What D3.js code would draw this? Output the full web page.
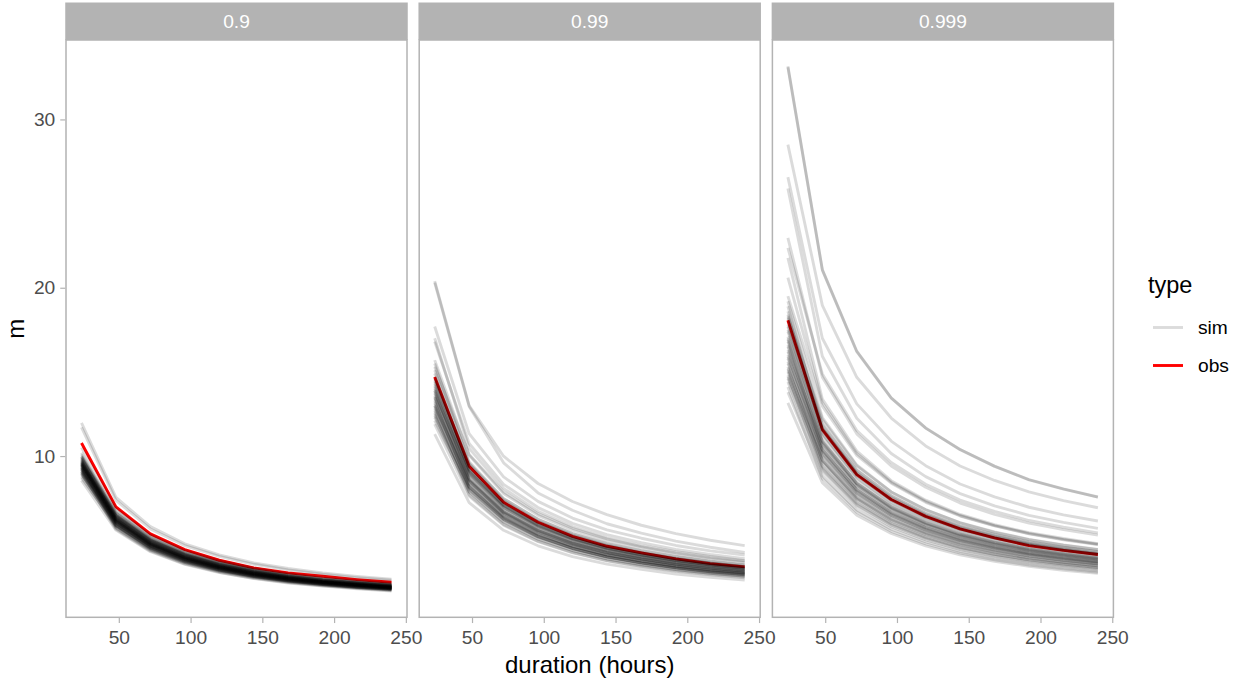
<!DOCTYPE html>
<html>
<head>
<meta charset="utf-8">
<script src="https://cdn.jsdelivr.net/npm/d3@7"></script>
<style>
  html, body { margin: 0; padding: 0; background: #fff; }
  svg { display: block; font-family: "Liberation Sans", Arial, Helvetica, sans-serif; }
</style>
</head>
<body>
<script>
// Durations (hours) at which the quantile curves are evaluated
const durations = [24, 48, 72, 96, 120, 144, 168, 192, 216, 240];
const panelLabels = ["0.9", "0.99", "0.999"];
const xTicks = [50, 100, 150, 200, 250];
const yTicks = [10, 20, 30];
const legendLabels = ["sim", "obs"];

// Observed curves, one per quantile level
const obs90 = [10.78, 6.98, 5.38, 4.44, 3.81, 3.36, 3.06, 2.86, 2.66, 2.50];
const obs99 = [14.7, 9.39, 7.25, 6.07, 5.23, 4.64, 4.25, 3.89, 3.61, 3.42];
const obs999 = [18.07, 11.57, 8.90, 7.42, 6.42, 5.67, 5.14, 4.68, 4.40, 4.15];

// Simulated curves, quantile level 0.9
const sim90 = [
  [11.97, 7.54, 5.81, 4.79, 4.13, 3.65, 3.32, 3.05, 2.85, 2.68],
  [11.7, 7.37, 5.67, 4.68, 4.04, 3.57, 3.24, 2.98, 2.78, 2.62],
  [10.5, 6.88, 5.30, 4.39, 3.78, 3.34, 3.02, 2.78, 2.59, 2.44],
  [10.2, 6.43, 4.95, 4.08, 3.52, 3.11, 2.83, 2.60, 2.43, 2.28],
  [10.1, 6.62, 5.10, 4.22, 3.64, 3.21, 2.91, 2.68, 2.49, 2.34],
  [10.0, 6.75, 5.25, 4.35, 3.75, 3.32, 3.00, 2.76, 2.58, 2.43],
  [9.98, 6.54, 5.04, 4.17, 3.59, 3.17, 2.87, 2.64, 2.47, 2.32],
  [9.95, 6.27, 4.83, 3.98, 3.43, 3.03, 2.76, 2.54, 2.37, 2.23],
  [9.9, 6.48, 5.00, 4.14, 3.56, 3.15, 2.85, 2.62, 2.45, 2.30],
  [9.88, 6.22, 4.79, 3.95, 3.41, 3.01, 2.74, 2.52, 2.35, 2.21],
  [9.85, 6.65, 5.17, 4.28, 3.69, 3.27, 2.96, 2.72, 2.54, 2.39],
  [9.8, 6.42, 4.95, 4.10, 3.53, 3.12, 2.82, 2.60, 2.42, 2.27],
  [9.78, 6.60, 5.13, 4.25, 3.67, 3.25, 2.93, 2.70, 2.52, 2.38],
  [9.75, 6.14, 4.73, 3.90, 3.36, 2.97, 2.70, 2.49, 2.32, 2.18],
  [9.7, 6.35, 4.90, 4.05, 3.49, 3.08, 2.79, 2.57, 2.40, 2.25],
  [9.7, 6.11, 4.70, 3.88, 3.35, 2.96, 2.69, 2.47, 2.31, 2.17],
  [9.68, 6.34, 4.89, 4.05, 3.48, 3.08, 2.79, 2.57, 2.39, 2.25],
  [9.65, 6.51, 5.07, 4.20, 3.62, 3.20, 2.90, 2.66, 2.49, 2.34],
  [9.62, 6.06, 4.67, 3.85, 3.32, 2.93, 2.66, 2.45, 2.29, 2.15],
  [9.6, 6.29, 4.85, 4.01, 3.46, 3.05, 2.76, 2.54, 2.37, 2.23],
  [9.6, 6.48, 5.04, 4.18, 3.60, 3.19, 2.88, 2.65, 2.48, 2.33],
  [9.58, 6.27, 4.84, 4.00, 3.45, 3.05, 2.76, 2.54, 2.37, 2.22],
  [9.55, 6.02, 4.63, 3.82, 3.29, 2.91, 2.65, 2.44, 2.27, 2.14],
  [9.55, 6.26, 4.82, 3.99, 3.44, 3.04, 2.75, 2.53, 2.36, 2.22],
  [9.52, 6.43, 5.00, 4.14, 3.57, 3.16, 2.86, 2.63, 2.46, 2.31],
  [9.5, 6.22, 4.80, 3.97, 3.42, 3.02, 2.74, 2.52, 2.35, 2.20],
  [9.5, 6.41, 4.99, 4.13, 3.56, 3.15, 2.85, 2.62, 2.45, 2.31],
  [9.48, 6.21, 4.79, 3.96, 3.41, 3.01, 2.73, 2.51, 2.34, 2.20],
  [9.45, 6.38, 4.96, 4.11, 3.54, 3.14, 2.84, 2.61, 2.44, 2.30],
  [9.45, 6.19, 4.77, 3.95, 3.40, 3.01, 2.72, 2.50, 2.33, 2.19],
  [9.42, 5.93, 4.57, 3.77, 3.25, 2.87, 2.61, 2.40, 2.24, 2.11],
  [9.4, 6.16, 4.75, 3.93, 3.38, 2.99, 2.71, 2.49, 2.32, 2.18],
  [9.38, 6.14, 4.74, 3.92, 3.38, 2.98, 2.70, 2.49, 2.32, 2.18],
  [9.35, 5.89, 4.53, 3.74, 3.23, 2.85, 2.59, 2.38, 2.23, 2.09],
  [9.32, 6.29, 4.89, 4.05, 3.50, 3.09, 2.80, 2.57, 2.40, 2.26],
  [9.3, 6.09, 4.70, 3.89, 3.35, 2.96, 2.68, 2.46, 2.30, 2.16],
  [9.3, 5.86, 4.51, 3.72, 3.21, 2.84, 2.58, 2.37, 2.21, 2.08],
  [9.28, 6.08, 4.69, 3.88, 3.34, 2.95, 2.67, 2.46, 2.29, 2.15],
  [9.25, 6.24, 4.86, 4.02, 3.47, 3.07, 2.78, 2.55, 2.39, 2.25],
  [9.22, 5.81, 4.47, 3.69, 3.18, 2.81, 2.55, 2.35, 2.19, 2.07],
  [9.2, 6.03, 4.65, 3.85, 3.31, 2.93, 2.65, 2.44, 2.27, 2.13],
  [9.18, 6.01, 4.64, 3.84, 3.30, 2.92, 2.64, 2.43, 2.27, 2.13],
  [9.12, 6.16, 4.79, 3.97, 3.42, 3.03, 2.74, 2.52, 2.35, 2.22],
  [9.1, 5.73, 4.41, 3.64, 3.14, 2.78, 2.52, 2.32, 2.17, 2.04],
  [9.08, 5.95, 4.59, 3.80, 3.27, 2.89, 2.62, 2.41, 2.24, 2.11],
  [9.05, 6.11, 4.75, 3.94, 3.39, 3.00, 2.72, 2.50, 2.33, 2.20],
  [9.0, 5.90, 4.55, 3.76, 3.24, 2.86, 2.59, 2.39, 2.22, 2.09],
  [8.98, 5.66, 4.36, 3.59, 3.10, 2.74, 2.49, 2.29, 2.14, 2.01],
  [8.95, 5.86, 4.52, 3.74, 3.22, 2.85, 2.58, 2.37, 2.21, 2.08],
  [8.9, 6.01, 4.67, 3.87, 3.34, 2.95, 2.67, 2.46, 2.30, 2.16],
  [8.8, 5.76, 4.44, 3.68, 3.17, 2.80, 2.53, 2.33, 2.17, 2.04],
  [8.7, 5.87, 4.57, 3.78, 3.26, 2.89, 2.61, 2.40, 2.24, 2.11],
  [8.55, 5.60, 4.32, 3.57, 3.08, 2.72, 2.46, 2.27, 2.11, 1.98]
];

// Simulated curves, quantile level 0.99
const sim99 = [
  [20.39, 13.0, 9.99, 8.37, 7.30, 6.52, 5.89, 5.39, 5.00, 4.68],
  [20.3, 12.95, 9.60, 7.81, 6.78, 5.98, 5.42, 4.95, 4.58, 4.27],
  [17.7, 11.33, 8.76, 7.31, 6.32, 5.61, 5.12, 4.69, 4.37, 4.12],
  [17.0, 10.46, 8.08, 6.72, 5.81, 5.15, 4.69, 4.32, 4.03, 3.79],
  [16.8, 10.75, 8.32, 6.94, 6.00, 5.33, 4.86, 4.45, 4.15, 3.91],
  [15.7, 10.05, 7.77, 6.48, 5.60, 4.98, 4.54, 4.16, 3.88, 3.66],
  [15.5, 9.53, 7.36, 6.12, 5.30, 4.70, 4.28, 3.94, 3.67, 3.46],
  [15.3, 10.10, 7.88, 6.58, 5.71, 5.08, 4.62, 4.25, 3.96, 3.75],
  [15.1, 9.66, 7.47, 6.24, 5.39, 4.79, 4.36, 4.00, 3.73, 3.52],
  [14.9, 9.16, 7.08, 5.89, 5.10, 4.51, 4.11, 3.78, 3.53, 3.32],
  [14.7, 9.41, 7.28, 6.07, 5.25, 4.66, 4.25, 3.90, 3.63, 3.43],
  [14.6, 8.98, 6.94, 5.77, 4.99, 4.42, 4.03, 3.71, 3.46, 3.26],
  [14.5, 9.57, 7.47, 6.24, 5.41, 4.81, 4.38, 4.03, 3.76, 3.55],
  [14.4, 9.22, 7.13, 5.95, 5.14, 4.56, 4.16, 3.82, 3.56, 3.36],
  [14.3, 9.15, 7.08, 5.91, 5.11, 4.53, 4.13, 3.79, 3.53, 3.33],
  [14.2, 9.09, 7.03, 5.86, 5.07, 4.50, 4.10, 3.76, 3.51, 3.31],
  [14.1, 8.67, 6.70, 5.57, 4.82, 4.27, 3.89, 3.58, 3.34, 3.14],
  [14.0, 9.24, 7.21, 6.02, 5.22, 4.65, 4.23, 3.89, 3.63, 3.43],
  [13.9, 8.90, 6.88, 5.74, 4.96, 4.41, 4.02, 3.68, 3.43, 3.24],
  [13.9, 8.55, 6.60, 5.49, 4.75, 4.21, 3.84, 3.53, 3.29, 3.10],
  [13.8, 8.83, 6.83, 5.70, 4.93, 4.37, 3.99, 3.66, 3.41, 3.22],
  [13.7, 9.04, 7.06, 5.89, 5.11, 4.55, 4.14, 3.81, 3.55, 3.36],
  [13.6, 8.36, 6.46, 5.37, 4.65, 4.12, 3.75, 3.45, 3.22, 3.03],
  [13.5, 8.64, 6.68, 5.58, 4.82, 4.28, 3.90, 3.58, 3.33, 3.15],
  [13.5, 8.91, 6.95, 5.81, 5.04, 4.48, 4.08, 3.75, 3.50, 3.31],
  [13.4, 8.58, 6.63, 5.53, 4.78, 4.25, 3.87, 3.55, 3.31, 3.12],
  [13.3, 8.18, 6.32, 5.25, 4.55, 4.03, 3.67, 3.38, 3.15, 2.97],
  [13.2, 8.12, 6.27, 5.21, 4.51, 4.00, 3.64, 3.35, 3.13, 2.94],
  [13.1, 8.38, 6.48, 5.41, 4.68, 4.15, 3.79, 3.47, 3.24, 3.05],
  [13.0, 8.32, 6.44, 5.37, 4.64, 4.12, 3.76, 3.45, 3.21, 3.03],
  [13.0, 8.58, 6.70, 5.59, 4.85, 4.32, 3.93, 3.61, 3.37, 3.19],
  [12.9, 8.51, 6.64, 5.55, 4.81, 4.28, 3.90, 3.59, 3.34, 3.16],
  [12.8, 7.87, 6.08, 5.06, 4.38, 3.88, 3.53, 3.25, 3.03, 2.85],
  [12.7, 8.13, 6.29, 5.25, 4.53, 4.03, 3.67, 3.37, 3.14, 2.96],
  [12.6, 8.06, 6.24, 5.20, 4.50, 3.99, 3.64, 3.34, 3.11, 2.94],
  [12.5, 7.69, 5.94, 4.94, 4.28, 3.79, 3.45, 3.18, 2.96, 2.79],
  [12.4, 8.18, 6.39, 5.33, 4.63, 4.12, 3.74, 3.45, 3.21, 3.04],
  [12.3, 7.87, 6.09, 5.08, 4.39, 3.90, 3.55, 3.26, 3.04, 2.87],
  [12.1, 7.99, 6.23, 5.20, 4.51, 4.02, 3.65, 3.36, 3.13, 2.96],
  [11.9, 7.62, 5.89, 4.91, 4.25, 3.77, 3.44, 3.15, 2.94, 2.77],
  [11.3, 7.23, 5.59, 4.67, 4.03, 3.58, 3.27, 2.99, 2.79, 2.63]
];

// Simulated curves, quantile level 0.999
const sim999 = [
  [33.16, 21.08, 16.23, 13.46, 11.67, 10.39, 9.40, 8.60, 8.05, 7.57],
  [33.1, 21.05, 16.20, 13.44, 11.66, 10.38, 9.39, 8.59, 8.04, 7.56],
  [28.5, 18.95, 14.68, 12.26, 10.60, 9.41, 8.55, 7.87, 7.35, 6.93],
  [26.57, 17.0, 13.10, 10.89, 9.43, 8.34, 7.57, 6.96, 6.51, 6.14],
  [25.9, 15.93, 12.25, 10.15, 8.78, 7.77, 7.04, 6.48, 6.06, 5.70],
  [22.96, 14.69, 11.32, 9.41, 8.15, 7.21, 6.54, 6.02, 5.63, 5.30],
  [22.37, 14.88, 11.52, 9.62, 8.32, 7.38, 6.71, 6.17, 5.77, 5.44],
  [21.78, 13.39, 10.30, 8.54, 7.38, 6.53, 5.92, 5.45, 5.10, 4.79],
  [20.6, 13.18, 10.16, 8.45, 7.31, 6.47, 5.87, 5.40, 5.05, 4.76],
  [19.5, 12.97, 10.04, 8.39, 7.25, 6.44, 5.85, 5.38, 5.03, 4.74],
  [19.2, 12.29, 9.47, 7.87, 6.82, 6.03, 5.47, 5.03, 4.70, 4.44],
  [18.9, 11.62, 8.94, 7.41, 6.41, 5.67, 5.14, 4.73, 4.42, 4.16],
  [18.6, 11.90, 9.17, 7.63, 6.60, 5.84, 5.30, 4.87, 4.56, 4.30],
  [18.4, 11.32, 8.70, 7.21, 6.24, 5.52, 5.00, 4.60, 4.31, 4.05],
  [18.3, 12.17, 9.42, 7.87, 6.81, 6.04, 5.49, 5.05, 4.72, 4.45],
  [18.2, 11.65, 8.97, 7.46, 6.46, 5.71, 5.19, 4.77, 4.46, 4.20],
  [18.0, 11.52, 8.87, 7.38, 6.39, 5.65, 5.13, 4.72, 4.41, 4.16],
  [17.8, 11.84, 9.17, 7.65, 6.62, 5.87, 5.34, 4.91, 4.59, 4.33],
  [17.7, 10.89, 8.37, 6.94, 6.00, 5.31, 4.81, 4.43, 4.14, 3.89],
  [17.5, 11.64, 9.01, 7.53, 6.51, 5.78, 5.25, 4.83, 4.52, 4.25],
  [17.4, 11.14, 8.58, 7.13, 6.18, 5.46, 4.96, 4.56, 4.26, 4.02],
  [17.1, 11.37, 8.81, 7.35, 6.36, 5.64, 5.13, 4.72, 4.41, 4.16],
  [17.0, 10.88, 8.38, 6.97, 6.04, 5.34, 4.85, 4.45, 4.17, 3.93],
  [16.9, 10.39, 7.99, 6.62, 5.73, 5.07, 4.60, 4.23, 3.95, 3.72],
  [16.8, 10.75, 8.28, 6.89, 5.96, 5.28, 4.79, 4.40, 4.12, 3.88],
  [16.6, 10.62, 8.18, 6.81, 5.89, 5.21, 4.73, 4.35, 4.07, 3.83],
  [16.5, 10.15, 7.80, 6.47, 5.59, 4.95, 4.49, 4.13, 3.86, 3.63],
  [16.3, 10.84, 8.39, 7.01, 6.06, 5.38, 4.89, 4.50, 4.21, 3.96],
  [16.2, 10.37, 7.99, 6.64, 5.75, 5.09, 4.62, 4.24, 3.97, 3.74],
  [16.0, 10.24, 7.89, 6.56, 5.68, 5.02, 4.56, 4.19, 3.92, 3.70],
  [15.9, 10.57, 8.19, 6.84, 5.91, 5.25, 4.77, 4.39, 4.10, 3.86],
  [15.8, 9.72, 7.47, 6.19, 5.36, 4.74, 4.30, 3.95, 3.70, 3.48],
  [15.6, 9.98, 7.69, 6.40, 5.54, 4.90, 4.45, 4.09, 3.82, 3.60],
  [15.5, 10.31, 7.98, 6.67, 5.77, 5.12, 4.65, 4.28, 4.00, 3.77],
  [15.3, 9.41, 7.24, 6.00, 5.19, 4.59, 4.16, 3.83, 3.58, 3.37],
  [15.2, 9.73, 7.49, 6.23, 5.40, 4.77, 4.33, 3.98, 3.72, 3.51],
  [15.1, 10.04, 7.78, 6.49, 5.62, 4.98, 4.53, 4.17, 3.90, 3.67],
  [15.0, 9.60, 7.40, 6.15, 5.33, 4.71, 4.28, 3.93, 3.68, 3.47],
  [14.8, 9.10, 7.00, 5.80, 5.02, 4.44, 4.03, 3.70, 3.46, 3.26],
  [14.7, 9.78, 7.57, 6.32, 5.47, 4.85, 4.41, 4.06, 3.79, 3.57],
  [14.6, 9.34, 7.20, 5.99, 5.18, 4.58, 4.16, 3.83, 3.58, 3.37],
  [14.4, 9.22, 7.10, 5.90, 5.11, 4.52, 4.10, 3.77, 3.53, 3.33],
  [14.1, 8.67, 6.67, 5.53, 4.78, 4.23, 3.84, 3.53, 3.30, 3.10],
  [13.8, 8.83, 6.80, 5.66, 4.90, 4.33, 3.93, 3.62, 3.38, 3.19],
  [13.16, 8.42, 6.49, 5.40, 4.67, 4.13, 3.75, 3.45, 3.22, 3.04]
];

const panels = [
  { label: panelLabels[0], obs: obs90, sims: sim90 },
  { label: panelLabels[1], obs: obs99, sims: sim99 },
  { label: panelLabels[2], obs: obs999, sims: sim999 }
];

// Layout
const W = 1239, H = 681;
const panelLeft = 66, panelW = 341, panelStep = 353.2;
const stripTop = 2.5, panelTop = 40, panelBottom = 617.3;
const borderColor = "#b3b3b3";
const tickText = "#4d4d4d";
const simColor = "#000";
const simOpacity = 0.14;
const obsColor = "#ff0000";
const lineW = 2.9;
const smallFont = 19.2;
const titleFont = 24;

const svg = d3.select("body").append("svg")
  .attr("width", W).attr("height", H);

svg.append("rect").attr("width", W).attr("height", H).attr("fill", "#fff");

// Shared scales: 5% expansion around the data range
const allVals = panels.flatMap(p => [...p.obs, ...p.sims.flat()]);
const [yMin, yMax] = d3.extent(allVals);
const yPad = (yMax - yMin) * 0.05;
const y = d3.scaleLinear().domain([yMin - yPad, yMax + yPad]).range([panelBottom, panelTop]);

const [dMin, dMax] = d3.extent(durations);
const xPad = (dMax - dMin) * 0.05;

panels.forEach((p, i) => {
  const x0 = panelLeft + i * panelStep;
  const x = d3.scaleLinear().domain([dMin - xPad, dMax + xPad]).range([x0, x0 + panelW]);
  const line = d3.line()
    .x((d, k) => x(durations[k]))
    .y(d => y(d));

  const g = svg.append("g");

  // Panel background
  g.append("rect")
    .attr("x", x0).attr("y", panelTop)
    .attr("width", panelW).attr("height", panelBottom - panelTop)
    .attr("fill", "#fff");

  // Observed curve first, simulated curves layered on top
  g.append("path")
    .datum(p.obs)
    .attr("d", line)
    .attr("fill", "none")
    .attr("stroke", obsColor)
    .attr("stroke-width", lineW)
    .attr("stroke-linejoin", "round");

  g.append("g").selectAll("path")
    .data(p.sims)
    .join("path")
    .attr("d", line)
    .attr("fill", "none")
    .attr("stroke", simColor)
    .attr("stroke-opacity", simOpacity)
    .attr("stroke-width", lineW)
    .attr("stroke-linejoin", "round");

  // Panel border
  g.append("rect")
    .attr("x", x0).attr("y", panelTop)
    .attr("width", panelW).attr("height", panelBottom - panelTop)
    .attr("fill", "none")
    .attr("stroke", borderColor)
    .attr("stroke-width", 1.5);

  // Facet strip
  g.append("rect")
    .attr("x", x0 - 0.75).attr("y", stripTop)
    .attr("width", panelW + 1.5).attr("height", panelTop - stripTop)
    .attr("fill", borderColor);
  g.append("text")
    .attr("x", x0 + panelW / 2).attr("y", (stripTop + panelTop) / 2 + 0.5)
    .attr("text-anchor", "middle")
    .attr("dominant-baseline", "central")
    .attr("fill", "#fff")
    .attr("font-size", smallFont)
    .text(p.label);

  // X axis
  const xAxis = g.append("g")
    .attr("transform", `translate(0,${panelBottom + 0.75})`)
    .call(d3.axisBottom(x).tickValues(xTicks).tickSize(5).tickPadding(7).tickFormat(d3.format("d")));
  xAxis.select(".domain").remove();
  xAxis.selectAll(".tick line").attr("stroke", borderColor).attr("stroke-width", 1.2);
  xAxis.selectAll(".tick text").attr("fill", tickText).attr("font-size", smallFont)
    .attr("font-family", "Liberation Sans, Arial, sans-serif");

  // Y axis only on the first panel
  if (i === 0) {
    const yAxis = g.append("g")
      .attr("transform", `translate(${x0 - 0.75},0)`)
      .call(d3.axisLeft(y).tickValues(yTicks).tickSize(5).tickPadding(5).tickFormat(d3.format("d")));
    yAxis.select(".domain").remove();
    yAxis.selectAll(".tick line").attr("stroke", borderColor).attr("stroke-width", 1.2);
    yAxis.selectAll(".tick text").attr("fill", tickText).attr("font-size", smallFont)
      .attr("font-family", "Liberation Sans, Arial, sans-serif");
  }
});

// Axis titles
svg.append("text")
  .attr("x", panelLeft + (2 * panelStep + panelW) / 2)
  .attr("y", 673)
  .attr("text-anchor", "middle")
  .attr("font-size", titleFont)
  .attr("fill", "#000")
  .text("duration (hours)");

svg.append("text")
  .attr("transform", `translate(24,${(panelTop + panelBottom) / 2}) rotate(-90)`)
  .attr("text-anchor", "middle")
  .attr("font-size", titleFont)
  .attr("fill", "#000")
  .text("m");

// Legend
const legend = svg.append("g").attr("transform", "translate(1148,0)");
legend.append("text")
  .attr("x", 0).attr("y", 293)
  .attr("font-size", 23.5)
  .attr("fill", "#000")
  .text("type");

const legendKeys = [
  { label: legendLabels[0], color: simColor, opacity: simOpacity, yPos: 327.5 },
  { label: legendLabels[1], color: obsColor, opacity: 1, yPos: 365.5 }
];
legendKeys.forEach(k => {
  legend.append("line")
    .attr("x1", 5).attr("x2", 35)
    .attr("y1", k.yPos).attr("y2", k.yPos)
    .attr("stroke", k.color)
    .attr("stroke-opacity", k.opacity)
    .attr("stroke-width", lineW);
  legend.append("text")
    .attr("x", 50).attr("y", k.yPos)
    .attr("dominant-baseline", "central")
    .attr("font-size", smallFont)
    .attr("fill", "#000")
    .text(k.label);
});
</script>
</body>
</html>
